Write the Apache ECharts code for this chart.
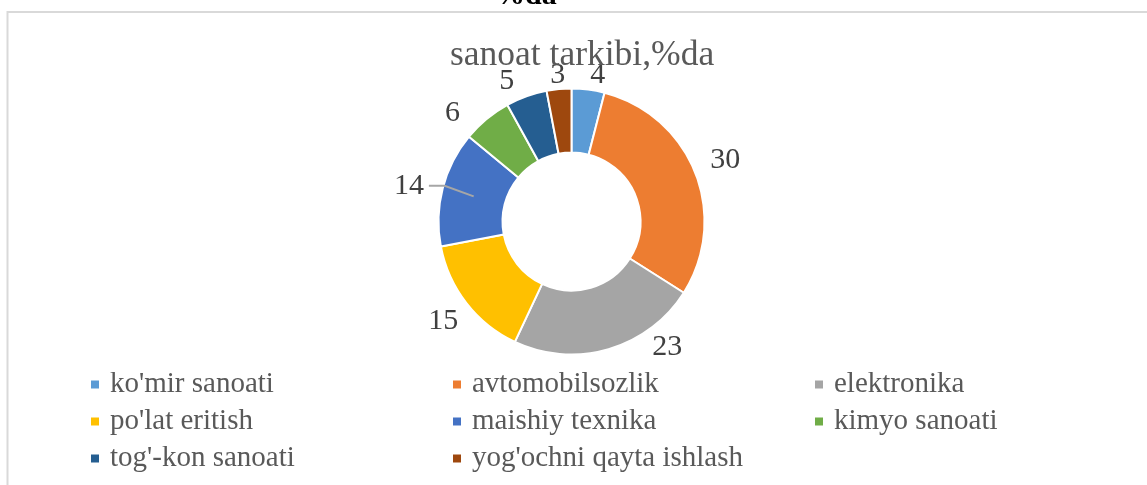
<!DOCTYPE html>
<html>
<head>
<meta charset="utf-8">
<script src="https://cdn.jsdelivr.net/npm/echarts@6/dist/echarts.min.js"></script>
<style>
html,body{margin:0;padding:0;background:#fff;}
#chart{width:1147px;height:485px;}
</style>
</head>
<body>
<div id="chart"></div>
<script>
const categories = ["ko'mir sanoati", "avtomobilsozlik", "elektronika", "po'lat eritish", "maishiy texnika", "kimyo sanoati", "tog'-kon sanoati", "yog'ochni qayta ishlash"];
const values = [4, 30, 23, 15, 14, 6, 5, 3];
const colors = ["#5B9BD5", "#ED7D31", "#A5A5A5", "#FFC000", "#4472C4", "#70AD47", "#255E91", "#9E480E"];
const titleText = "sanoat tarkibi,%da";
const topCutText = "%da";
// label nudges (degrees) reflecting manually moved labels in the original
const labelAngleShift = [3, 0, -21, 0, -2, -8, -5, 0];
const leaderLineIndex = 4;

const serif = "'Liberation Serif', 'Times New Roman', serif";
const LABEL_FONT = 30;
const CX = 571.5, CY = 221.5, R_IN = 69, R_OUT = 133;

const total = values.reduce((a, b) => a + b, 0);
const midAngles = [];
{
  let cum = 0;
  values.forEach(v => { midAngles.push((cum + v / 2) / total * 360); cum += v; });
}
function labelPos(i) {
  const a = (midAngles[i] + labelAngleShift[i]) * Math.PI / 180;
  const d = R_OUT + 12 + 22 * Math.abs(Math.sin(a));
  return [CX + d * Math.sin(a), CY - d * Math.cos(a)];
}
function textWidth(t) {
  const ctx = document.createElement('canvas').getContext('2d');
  ctx.font = LABEL_FONT + "px " + serif;
  return ctx.measureText(t).width;
}

// leader line for the moved label
const leaderPts = (function () {
  const i = leaderLineIndex;
  const m = midAngles[i] * Math.PI / 180;
  const r1 = (R_IN + R_OUT) / 2, r2 = R_OUT - 2;
  const p1 = [CX + r1 * Math.sin(m), CY - r1 * Math.cos(m)];
  const lp = labelPos(i);
  const p2 = [CX + r2 * Math.sin(m), lp[1]];
  const hw = textWidth(String(values[i])) / 2;
  return [p1, p2, [lp[0] + hw + 5, lp[1]]];
})();

const data = categories.map((name, i) => ({ name: name, value: values[i], itemStyle: { color: colors[i] } }));

const chart = echarts.init(document.getElementById('chart'));
chart.setOption({
  backgroundColor: '#fff',
  animation: false,
  title: {
    text: titleText,
    left: 450,
    top: 38,
    padding: 0,
    textStyle: { fontFamily: serif, fontSize: 35.5, fontWeight: 'normal', color: '#595959' }
  },
  graphic: [
    {
      type: 'rect',
      shape: { x: 7.5, y: 12, width: 1170, height: 520 },
      style: { fill: 'none', stroke: '#D9D9D9', lineWidth: 2 },
      silent: true
    },
    {
      type: 'text',
      x: 495, y: 11,
      style: { text: topCutText, fontFamily: serif, fontSize: 30, fontWeight: 'bold', fill: '#000', verticalAlign: 'bottom', align: 'left' },
      silent: true
    },
    {
      type: 'polyline',
      z: 100,
      shape: { points: leaderPts },
      style: { stroke: '#A6A6A6', lineWidth: 2, fill: 'none' },
      silent: true
    }
  ],
  legend: {
    left: 89,
    top: 370,
    width: 1100,
    padding: 0,
    itemWidth: 10,
    itemHeight: 10,
    itemGap: 8,
    icon: 'rect',
    data: categories,
    textStyle: {
      fontFamily: serif,
      fontSize: 29,
      color: '#595959',
      width: 333,
      lineHeight: 26,
      padding: [0, 0, 0, 5]
    }
  },
  series: [{
    type: 'pie',
    center: [CX, CY],
    radius: [R_IN, R_OUT],
    startAngle: 90,
    clockwise: true,
    avoidLabelOverlap: false,
    data: data,
    itemStyle: { borderColor: '#fff', borderWidth: 2 },
    label: {
      show: true,
      position: 'outside',
      formatter: '{c}',
      fontFamily: serif,
      fontSize: LABEL_FONT,
      color: '#404040'
    },
    labelLine: { show: false },
    labelLayout: function (params) {
      const p = labelPos(params.dataIndex);
      return { x: p[0], y: p[1], align: 'center', verticalAlign: 'middle' };
    },
    emphasis: { disabled: true }
  }]
});
</script>
</body>
</html>
